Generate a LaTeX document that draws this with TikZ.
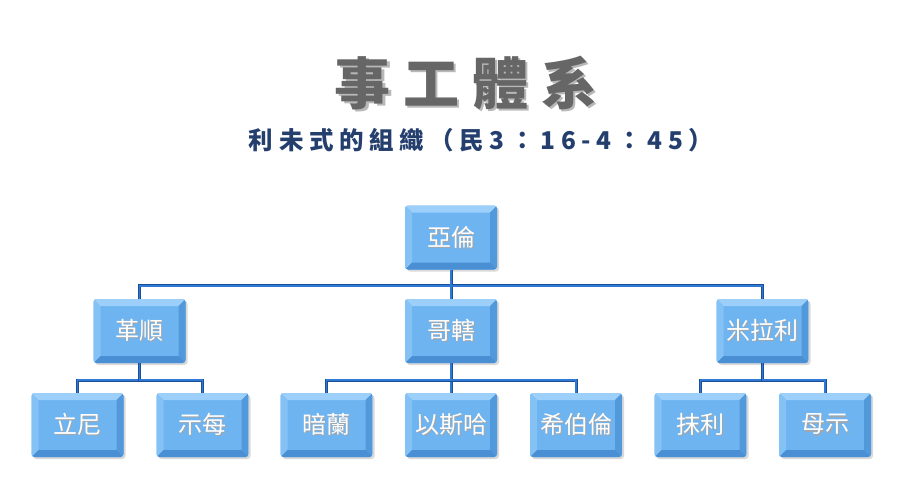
\documentclass[tikz,border=0pt]{standalone}
\usepackage{fontspec}
\newfontfamily\cjk{Noto Sans CJK TC}
\usetikzlibrary{shadows}
\definecolor{face}{HTML}{6EB4F0}
\definecolor{bevtop}{HTML}{9CCFF9}
\definecolor{bevleft}{HTML}{84C1F4}
\definecolor{bevright}{HTML}{5299DC}
\definecolor{bevbot}{HTML}{4A8ED4}
\definecolor{linkblue}{HTML}{2F78D6}
\definecolor{linkdark}{HTML}{1B4E92}
\definecolor{subblue}{HTML}{243F6E}
\definecolor{titlegray}{HTML}{666666}
\newcommand\wtext[1]{\makebox[0pt][l]{\kern1.2pt\raisebox{-1.2pt}{\color{black!35}#1}}{\color{white}#1}}
\newcommand\ttext[1]{\makebox[0pt][l]{\kern2.5pt\raisebox{-2.5pt}{\color{black!28}#1}}{\color{titlegray}#1}}
\begin{document}
\begin{tikzpicture}[x=1pt,y=-1pt,
  box/.style={minimum width=92pt,minimum height=64pt,inner sep=0pt,rounded corners=3pt,fill=face,
    drop shadow={shadow xshift=2pt,shadow yshift=-2pt,opacity=.3},
    font=\cjk\fontsize{24}{24}\selectfont,
    path picture={
      \coordinate (nw) at (path picture bounding box.north west);
      \coordinate (ne) at (path picture bounding box.north east);
      \coordinate (sw) at (path picture bounding box.south west);
      \coordinate (se) at (path picture bounding box.south east);
      \fill[bevtop,sharp corners] (nw) -- (ne) -- ([shift={(-7pt,-7pt)}]ne) -- ([shift={(7pt,-7pt)}]nw) -- cycle;
      \fill[bevleft,sharp corners] (nw) -- (sw) -- ([shift={(7pt,7pt)}]sw) -- ([shift={(7pt,-7pt)}]nw) -- cycle;
      \fill[bevright,sharp corners] (ne) -- (se) -- ([shift={(-7pt,7pt)}]se) -- ([shift={(-7pt,-7pt)}]ne) -- cycle;
      \fill[bevbot,sharp corners] (sw) -- (se) -- ([shift={(-7pt,7pt)}]se) -- ([shift={(7pt,7pt)}]sw) -- cycle;
    }},
  link/.style={draw=linkdark,double=linkblue,double distance=1.6pt,line width=.7pt}]
\useasboundingbox (0,0) rectangle (900,500);
\node (title) at (466,84) {\cjk\bfseries\fontsize{56}{56}\selectfont\ttext{事\hspace{13pt}工\hspace{13pt}體\hspace{13pt}系}};
\node (subtitle) at (481,140) {\cjk\bfseries\fontsize{24.5}{24.5}\selectfont\addfontfeature{LetterSpace=23}\color{subblue}利未式的組織（民3：16-4：45）};
\node[box] (ya) at (451,237.5) {\wtext{亞倫}};
\node[box] (gs) at (139.5,331) {\wtext{革順}};
\node[box] (gh) at (451,331) {\wtext{哥轄}};
\node[box] (ml) at (762.5,331) {\wtext{米拉利}};
\foreach \n/\x/\t in {ln/77.5/立尼,sm/202.5/示每,an/326.5/暗蘭,ys/451/以斯哈,xb/576/希伯倫,mo/700.5/抹利,ms/825/母示}
  \node[box] (\n) at (\x,425) {\wtext{\t}};
\foreach \c in {gs,gh,ml}{\draw[link] (ya.south) -- ++(0,16) -| (\c.north);}
\foreach \p/\c in {gs/ln,gs/sm,gh/an,gh/ys,gh/xb,ml/mo,ml/ms}{\draw[link] (\p.south) -- ++(0,17) -| (\c.north);}
\end{tikzpicture}
\end{document}
